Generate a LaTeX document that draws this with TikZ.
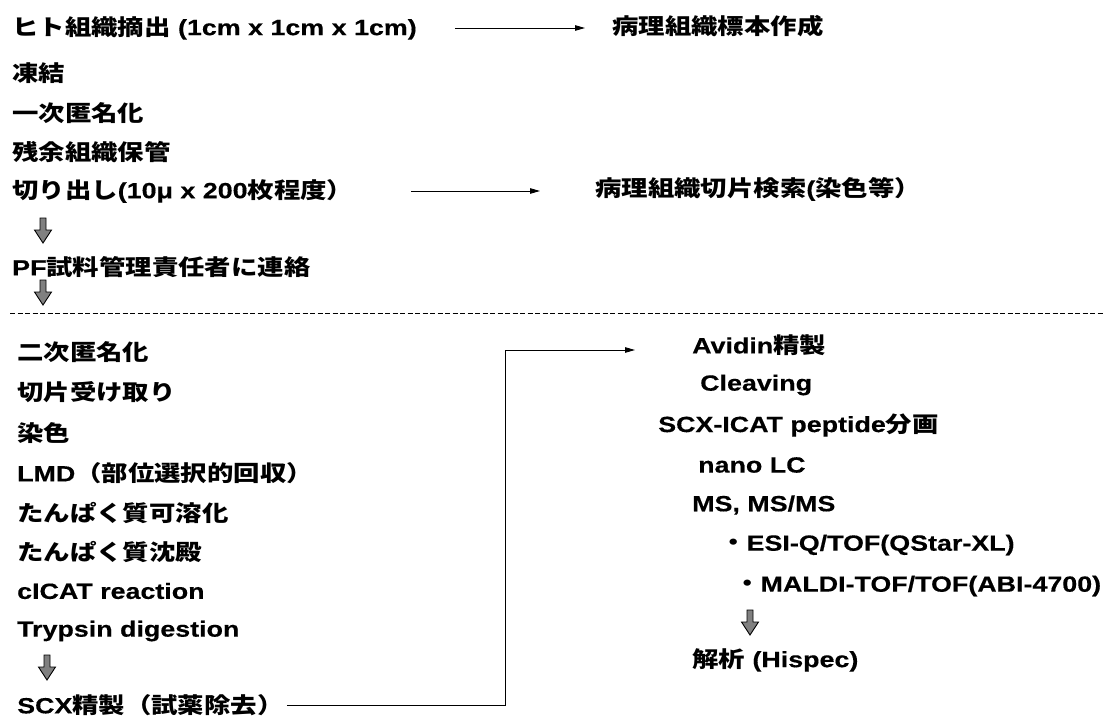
\documentclass[tikz,border=0pt]{standalone}
\usepackage{fontspec}
\setmainfont{Liberation Sans}[FakeStretch=1.22, BoldFeatures={FakeBold=0.4}]
\newfontfamily\cjkf{Noto Sans CJK JP}[FakeStretch=1.2]
\newcommand\J[1]{{\cjkf #1}}
\usetikzlibrary{arrows.meta}
\begin{document}
\begin{tikzpicture}[x=1pt,y=-1pt,
  txt/.style={anchor=west, inner sep=0pt, font=\bfseries\fontsize{22}{26}\selectfont},
  conn/.style={line width=0.9pt, -{Triangle[length=10pt,width=5.5pt]}},
  darr/.pic={\filldraw[fill=black!50, draw=black, line width=0.9pt]
     (-3,0) -- (3,0) -- (3,12) -- (8.5,12) -- (0,25) -- (-8.5,12) -- (-3,12) -- cycle;}
]
\useasboundingbox (0,0) rectangle (1105,722);
% upper block
\node[txt] (t1) at (12,28) {\J{ヒト組織摘出} (1cm x 1cm x 1cm)};
\node[txt] (r1) at (612,26) {\J{病理組織標本作成}};
\node[txt] (t2) at (12,73) {\J{凍結}};
\node[txt] (t3) at (12,113) {\J{一次匿名化}};
\node[txt] (t4) at (12,152) {\J{残余組織保管}};
\node[txt] (t5) at (12,191) {\J{切り出し}(10μ x 200\J{枚程度）}};
\node[txt] (r2) at (595,189) {\J{病理組織切片検索}(\J{染色等）}};
\node[txt] (t6) at (12,267) {PF\J{試料管理責任者に連絡}};
\draw[conn] ([xshift=38pt]t1.east) -- ([xshift=-27pt,yshift=-2pt]r1.west);
\draw[conn] ([xshift=58pt]t5.east) -- ([xshift=-55pt,yshift=-2pt]r2.west);
\pic at (43,218) {darr};
\pic at (43,280) {darr};
\draw[line width=0.9pt, dash pattern=on 5pt off 2.5pt] (10,313) -- (1105,313);
% lower left block
\node[txt] (b1) at (17,352) {\J{二次匿名化}};
\node[txt] (b2) at (17,392) {\J{切片受け取り}};
\node[txt] (b3) at (17,433) {\J{染色}};
\node[txt] (b4) at (17,473) {LMD\J{（部位選択的回収）}};
\node[txt] (b5) at (17,513) {\J{たんぱく質可溶化}};
\node[txt] (b6) at (17,552) {\J{たんぱく質沈殿}};
\node[txt] (b7) at (17,591) {cICAT reaction};
\node[txt] (b8) at (17,631) {Trypsin digestion};
\pic at (47,655) {darr};
\node[txt] (b9) at (17,705) {SCX\J{精製（試薬除去）}};
% right block
\node[txt] (c1) at (692,345) {Avidin\J{精製}};
\node[txt] (c2) at (700,385) {Cleaving};
\node[txt] (c3) at (658,425) {SCX-ICAT peptide\J{分画}};
\node[txt] (c4) at (698,465) {nano LC};
\node[txt] (c5) at (692,505) {MS, MS/MS};
\node[txt] (c6) at (720,545) {\J{・}ESI-Q/TOF(QStar-XL)};
\node[txt] (c7) at (734,586) {\J{・}MALDI-TOF/TOF(ABI-4700)};
\pic at (750,610) {darr};
\node[txt] (c8) at (692,660) {\J{解析} (Hispec)};
\coordinate (k1) at (505,705);
\draw[conn] ([xshift=3pt]b9.east) -- (k1) |- ([xshift=-57pt,yshift=-5pt]c1.west);
\end{tikzpicture}
\end{document}
